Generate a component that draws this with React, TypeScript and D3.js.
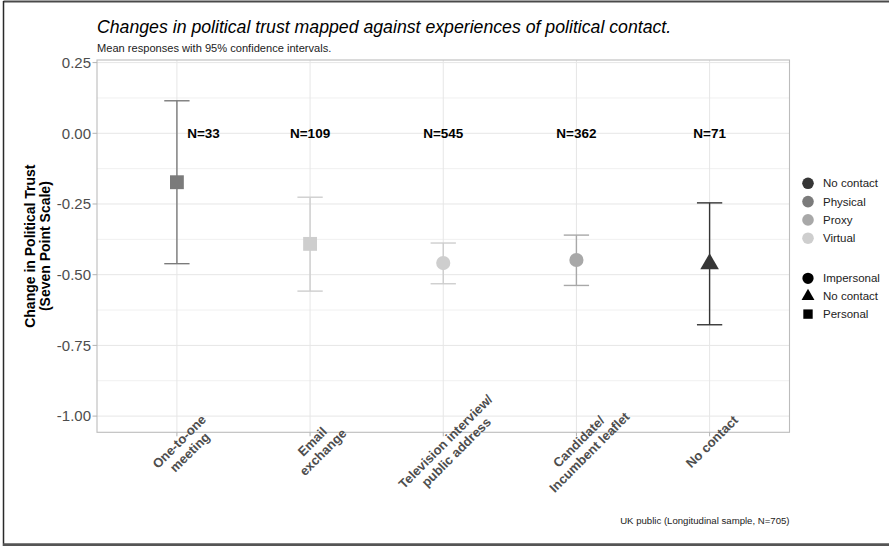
import React from "react";
import * as d3 from "d3";

// Contact categories along the x axis (lines of each label)
const categories = ["one", "email", "tv", "leaflet", "none"];
const categoryLabels: string[][] = [
  ["One-to-one", "meeting"],
  ["Email", "exchange"],
  ["Television interview/", "public address"],
  ["Candidate/", "Incumbent leaflet"],
  ["No contact"],
];

// Mean change in political trust and 95% confidence limits
const means = [-0.173, -0.391, -0.459, -0.448, -0.462];
const lower = [-0.461, -0.558, -0.532, -0.538, -0.677];
const upper = [0.115, -0.226, -0.388, -0.36, -0.246];

// Contact mode (colour) and contact type (shape) per category
const modes = ["Physical", "Virtual", "Virtual", "Proxy", "No contact"];
const types = ["Personal", "Personal", "Impersonal", "Impersonal", "No contact"];

// Sample size labels and their horizontal nudge (in category units)
const sampleLabels = ["N=33", "N=109", "N=545", "N=362", "N=71"];
const labelNudge = [0.2, 0, 0, 0, 0];

const yTicks = [0.25, 0, -0.25, -0.5, -0.75, -1];
const yMinor = [0.125, -0.125, -0.375, -0.625, -0.875];

const modeLevels = ["No contact", "Physical", "Proxy", "Virtual"];
const modeColours = ["#363636", "#7b7b7b", "#a8a8a8", "#cecece"];
const typeLevels = ["Impersonal", "No contact", "Personal"];

const FONT = "'Liberation Sans', Arial, Helvetica, sans-serif";

const W = 889;
const H = 546;
const panel = { left: 97, right: 789.5, top: 60, bottom: 432.3 };

const x = d3
  .scalePoint<string>()
  .domain(categories)
  .range([panel.left, panel.right])
  .padding(0.6);
const step = x.step();
const y = d3
  .scaleLinear()
  .domain([-1.0573, 0.2592])
  .range([panel.bottom, panel.top]);

const colour = d3.scaleOrdinal<string, string>().domain(modeLevels).range(modeColours);

const symbolFor: Record<string, d3.SymbolType> = {
  Impersonal: d3.symbolCircle,
  "No contact": d3.symbolTriangle,
  Personal: d3.symbolSquare,
};
const pointSize: Record<string, number> = {
  Impersonal: 158,
  "No contact": 150,
  Personal: 192,
};
const keySize: Record<string, number> = {
  Impersonal: 100,
  "No contact": 72,
  Personal: 88,
};

export default function App() {
  const capHalf = step * 0.095;
  const lh = 15;
  return (
    <svg
      width={W}
      height={H}
      style={{ position: "absolute", left: 0, top: 0, background: "#fff" }}
      fontFamily={FONT}
    >
      <rect x={0} y={0} width={W} height={H} fill="#fff" />

      {/* frame */}
      <line x1={3.5} y1={1.5} x2={W} y2={1.5} stroke="#4a4a4a" strokeWidth={2} />
      <line x1={3.5} y1={1} x2={3.5} y2={H} stroke="#2a2a2a" strokeWidth={1.5} />
      <line x1={3} y1={544.8} x2={W} y2={544.8} stroke="#555" strokeWidth={3} />

      {/* title block */}
      <text x={97} y={33} fontSize={17.7} fontStyle="italic" fill="#000">
        Changes in political trust mapped against experiences of political contact.
      </text>
      <text x={97} y={52} fontSize={11.1} fill="#222">
        Mean responses with 95% confidence intervals.
      </text>

      {/* grid */}
      {yMinor.map((v) => (
        <line key={"mn" + v} x1={panel.left} x2={panel.right} y1={y(v)} y2={y(v)} stroke="#f0f0f0" strokeWidth={1} />
      ))}
      {yTicks.map((v) => (
        <line key={"mj" + v} x1={panel.left} x2={panel.right} y1={y(v)} y2={y(v)} stroke="#e6e6e6" strokeWidth={1} />
      ))}
      {categories.map((c) => (
        <line key={"vg" + c} x1={x(c)} x2={x(c)} y1={panel.top} y2={panel.bottom} stroke="#e6e6e6" strokeWidth={1} />
      ))}
      <rect
        x={panel.left}
        y={panel.top}
        width={panel.right - panel.left}
        height={panel.bottom - panel.top}
        fill="none"
        stroke="#bcbcbc"
        strokeWidth={1.1}
      />

      {/* y axis */}
      {yTicks.map((v) => (
        <g key={"yt" + v}>
          <line x1={panel.left - 4.5} x2={panel.left} y1={y(v)} y2={y(v)} stroke="#b3b3b3" strokeWidth={1} />
          <text x={panel.left - 6} y={y(v)} dy="0.35em" textAnchor="end" fontSize={15} fill="#4d4d4d">
            {v.toFixed(2)}
          </text>
        </g>
      ))}
      <text transform={`translate(37.5,${(panel.top + panel.bottom) / 2}) rotate(-90)`} fontSize={14} fontWeight="bold" fill="#000" textAnchor="middle">
        <tspan x={0} y={-7.5} dominantBaseline="central">Change in Political Trust</tspan>
        <tspan x={0} y={7.5} dominantBaseline="central">(Seven Point Scale)</tspan>
      </text>

      {/* x axis */}
      {categories.map((c, i) => (
        <g key={"xt" + c}>
          <line x1={x(c)} x2={x(c)} y1={panel.bottom} y2={panel.bottom + 4} stroke="#b3b3b3" strokeWidth={1} />
          <text
            transform={`translate(${(x(c) as number) - 3},${panel.bottom + 4}) rotate(-45)`}
            fontSize={13}
            fontWeight="bold"
            fill="#4d4d4d"
            textAnchor="middle"
          >
            {categoryLabels[i].map((line, j) => (
              <tspan key={j} x={0} y={(j + 0.5) * lh} dominantBaseline="central">
                {line}
              </tspan>
            ))}
          </text>
        </g>
      ))}

      {/* error bars and means */}
      {categories.map((c, i) => {
        const cx = x(c) as number;
        const col = colour(modes[i]);
        const sym = d3.symbol(symbolFor[types[i]], pointSize[types[i]])() as string;
        return (
          <g key={"pt" + c}>
            <line x1={cx} x2={cx} y1={y(upper[i])} y2={y(lower[i])} stroke={col} strokeWidth={1.4} />
            <line x1={cx - capHalf} x2={cx + capHalf} y1={y(upper[i])} y2={y(upper[i])} stroke={col} strokeWidth={1.4} />
            <line x1={cx - capHalf} x2={cx + capHalf} y1={y(lower[i])} y2={y(lower[i])} stroke={col} strokeWidth={1.4} />
            <path d={sym} transform={`translate(${cx},${y(means[i])})`} fill={col} />
          </g>
        );
      })}

      {/* sample sizes */}
      {categories.map((c, i) => (
        <text
          key={"n" + c}
          x={(x(c) as number) + labelNudge[i] * step}
          y={y(0)}
          dy="0.36em"
          textAnchor="middle"
          fontSize={13.5}
          fontWeight="bold"
          fill="#000"
        >
          {sampleLabels[i]}
        </text>
      ))}

      {/* colour legend */}
      {modeLevels.map((m, i) => (
        <g key={"lc" + m} transform={`translate(808,${183.3 + i * 18.3})`}>
          <circle r={5.8} fill={colour(m)} />
          <text x={15} dy="0.35em" fontSize={11.5} fill="#222">
            {m}
          </text>
        </g>
      ))}

      {/* shape legend */}
      {typeLevels.map((t, i) => (
        <g key={"ls" + t} transform={`translate(808,${278.3 + i * 17.9})`}>
          <path d={d3.symbol(symbolFor[t], keySize[t])() as string} fill="#000" />
          <text x={15} dy="0.35em" fontSize={11.5} fill="#222">
            {t}
          </text>
        </g>
      ))}

      {/* caption */}
      <text x={panel.right} y={524} textAnchor="end" fontSize={9.6} fill="#222">
        UK public (Longitudinal sample, N=705)
      </text>
    </svg>
  );
}
